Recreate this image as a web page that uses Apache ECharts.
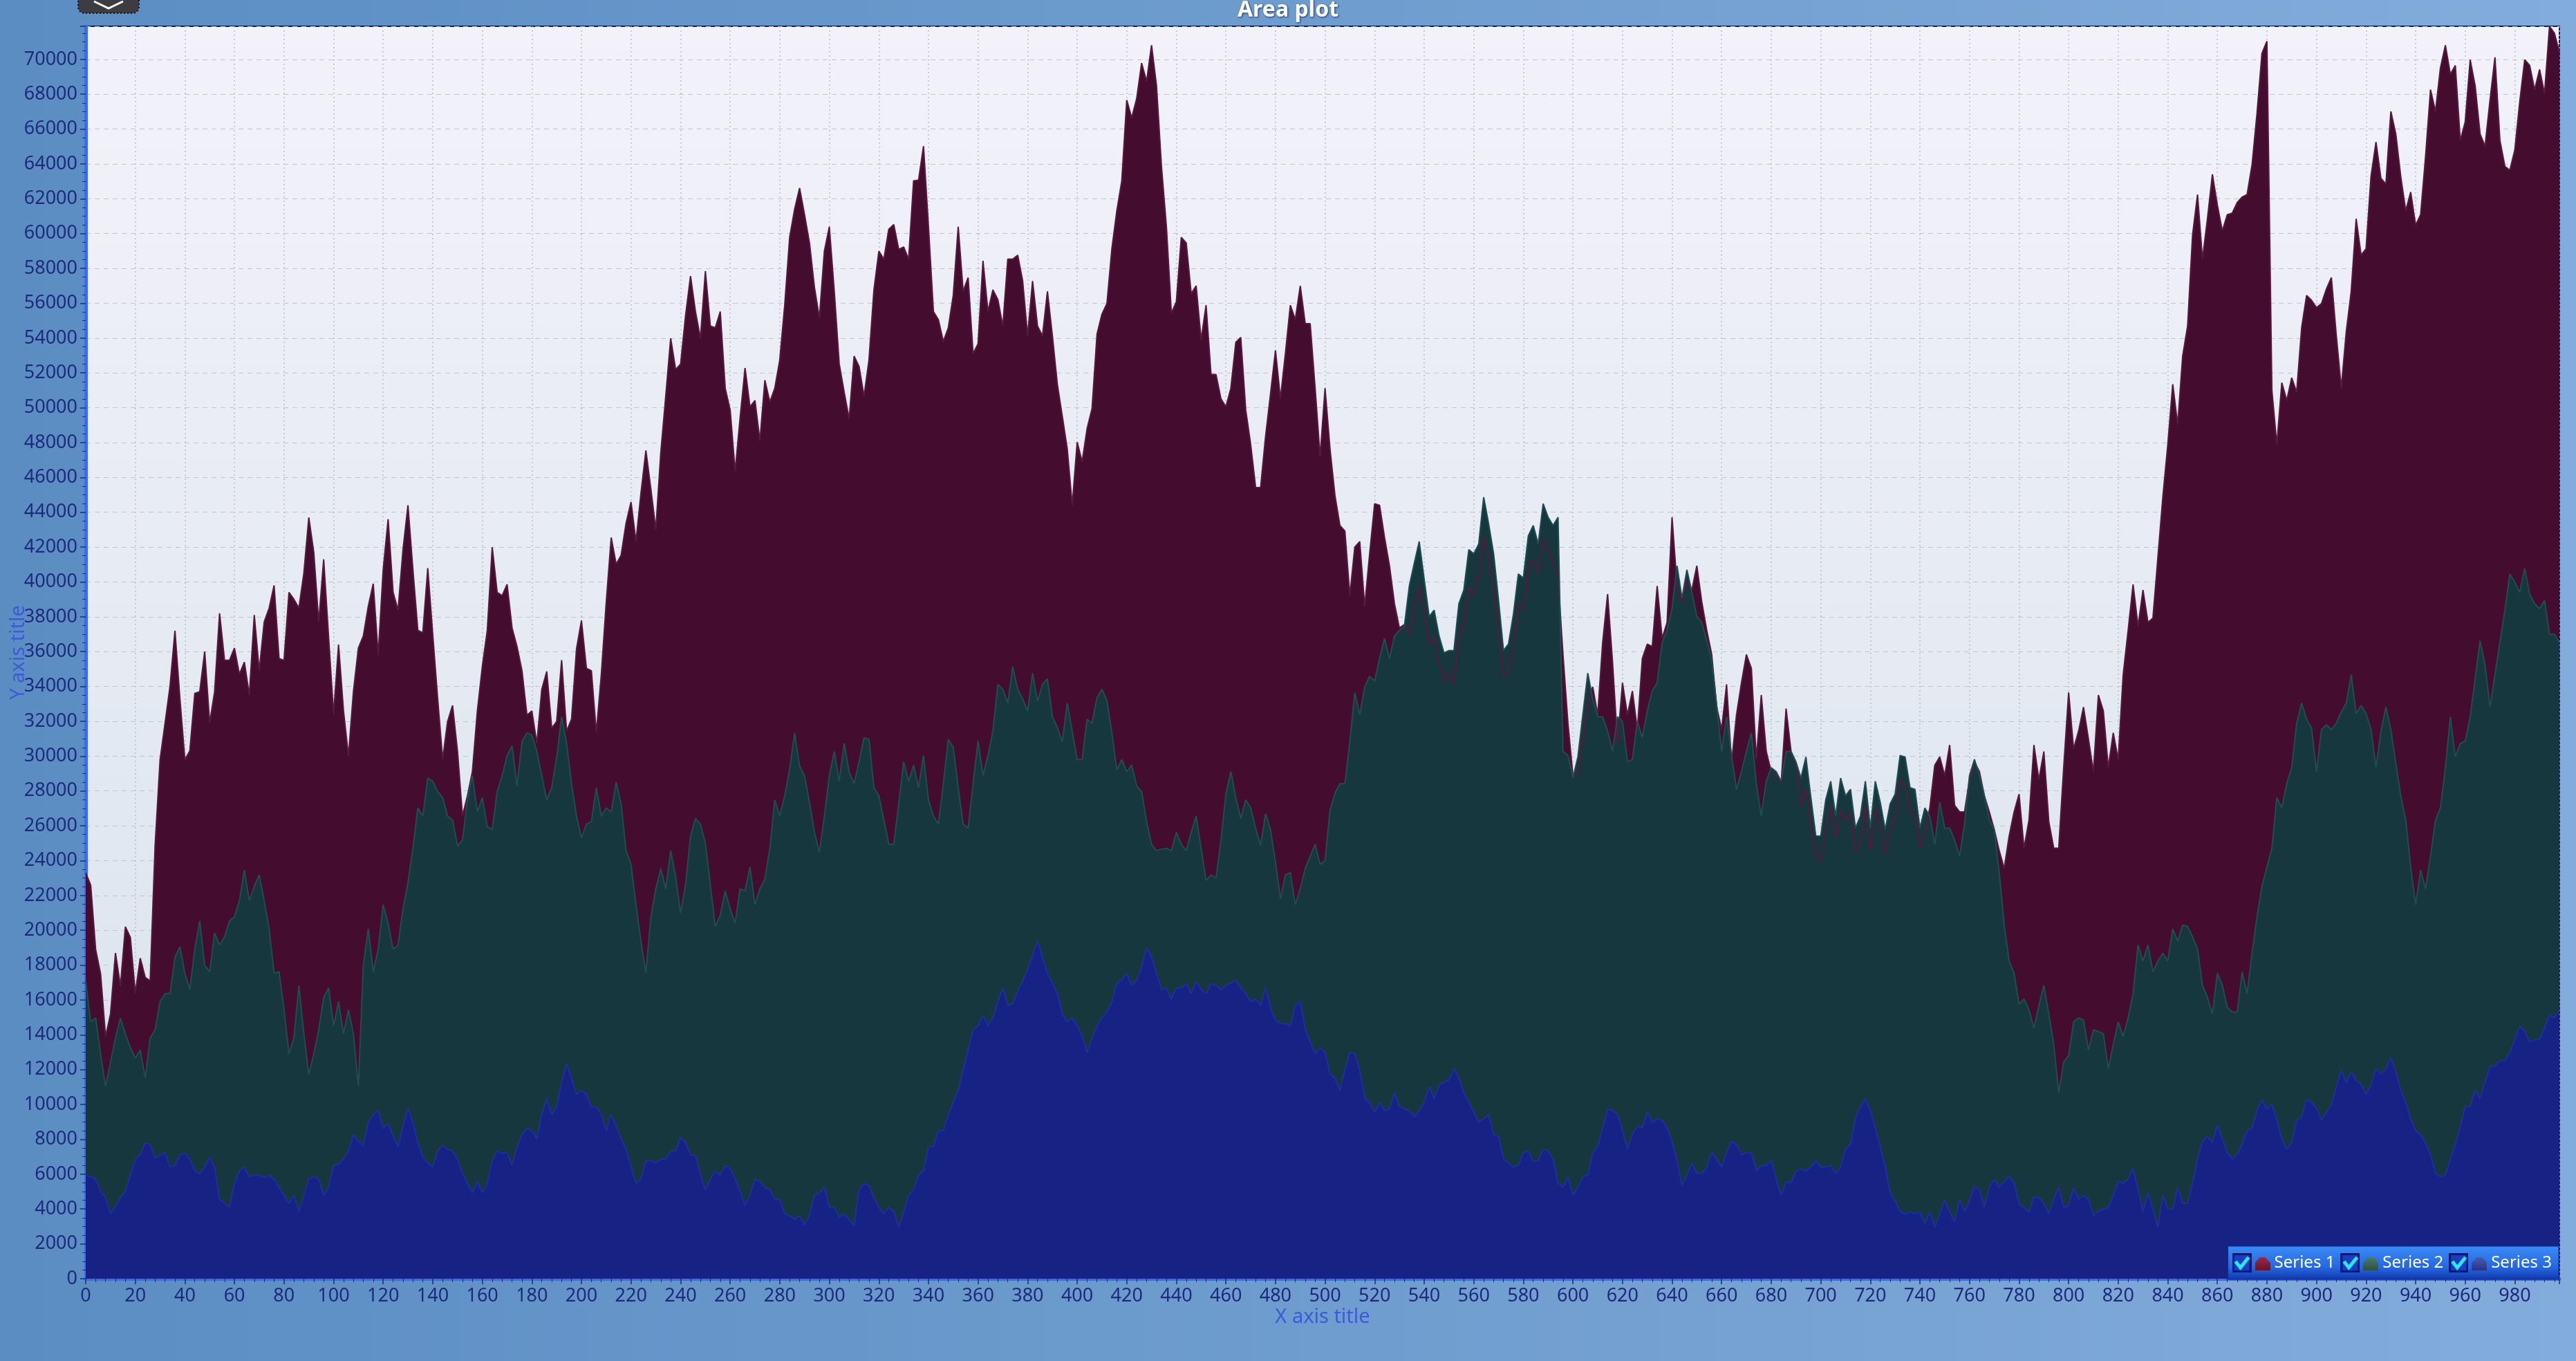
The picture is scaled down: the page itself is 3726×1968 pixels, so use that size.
<!DOCTYPE html>
<html>
<head>
<meta charset="utf-8">
<title>Area plot</title>
<style>
  html, body { margin: 0; padding: 0; }
  body {
    width: 3726px; height: 1968px; overflow: hidden;
    background: linear-gradient(90deg, #5b8dc3 0%, #6a99cc 40%, #78a4d4 75%, #82acdb 100%);
  }
  #main { width: 3726px; height: 1968px; }
</style>
</head>
<body>
<div id="main"></div>
<script src="https://cdn.jsdelivr.net/npm/echarts/dist/echarts.min.js"></script>
<script>
const SERIES_NAMES = ['Series 1', 'Series 2', 'Series 3'];
const X_STEP = 2;      // one sample every 2 x units, 0 .. 998
const X_MAX = 998;
const Y_MAX = 71900;

const S1_VALUES = [
  // 0 - 124
  23300, 22600, 18900, 17500, 13900, 15200, 18700, 16800, 20200, 19600,
  16400, 18400, 17300, 17100, 24900, 29800, 31900, 34000, 37200, 33300,
  29800, 30300, 33600, 33700, 36000, 31900, 33700, 38200, 35500, 35500,
  36200, 34700, 35400, 33500, 38100, 34900, 37700, 38500, 39800, 35600,
  35500, 39400, 39000, 38500, 40500, 43700, 41700, 37700, 41300, 36800,
  32400, 36400, 32600, 30000, 33700, 36200, 36900, 38600, 39900, 35800,
  40700, 43600, 39400,
  // 126 - 250
  38380, 41850, 44400, 40700, 37220, 37080, 40790, 36990, 33280, 29810,
  31990, 32910, 30270, 26560, 27720, 29110, 32590, 35140, 37220, 41990,
  39400, 39210, 39860, 37360, 36290, 34910, 32360, 32590, 30730, 33840,
  34860, 31610, 31990, 35510, 31430, 32120, 36150, 37780, 35040, 34900,
  31340, 34670, 38840, 42550, 41020, 41530, 43380, 44590, 42320, 45100,
  47550, 45330, 43010, 47410, 50660, 53990, 52190, 52510, 55290, 57560,
  55520, 53990, 57840,
  // 252 - 374
  54690, 54590, 55520, 51120, 49870, 46350, 49410, 52280, 50050, 50420,
  48110, 51580, 50330, 51120, 52740, 55890, 59780, 61400, 62610, 61080,
  59460, 56910, 55150, 58990, 60390, 56680, 52510, 50890, 49360, 52970,
  52370, 50660, 52740, 56770, 58990, 58530, 60250, 60520, 59090, 59230,
  58530, 63030, 63070, 65020, 60390, 55520, 55060, 53810, 54590, 56450,
  60390, 56680, 57470, 53110, 53670, 58440, 55520, 56770, 56210, 54690,
  58530, 58530,
  // 376 - 500
  58760, 57280, 54130, 57280, 54690, 54130, 56680, 54130, 51350, 49500,
  47640, 44400, 48020, 46900, 48800, 49960, 54220, 55380, 55980, 59130,
  61310, 63030, 67660, 66640, 67750, 69790, 68730, 70810, 68490, 63860,
  60390, 55430, 56080, 59780, 59460, 56540, 57000, 53900, 55890, 51910,
  51910, 50520, 50050, 51120, 53760, 54040, 49870, 47880, 45420, 45420,
  48340, 50790, 53300, 50520, 53110, 55890, 55060, 57000, 54830, 54830,
  51120, 47180, 51120,
  // 502 - 626
  47640, 44960, 43240, 42920, 39210, 42000, 42320, 38610, 41620, 44490,
  44400, 42550, 40930, 38750, 37360, 37550, 37000, 38500, 39800, 38200,
  36400, 36900, 35200, 34300, 34800, 34100, 36900, 37600, 39700, 39300,
  40400, 42600, 41200, 39600, 37100, 34500, 34900, 36300, 38700, 38400,
  40800, 41300, 40500, 42500, 41800, 41100, 40200, 35830, 31890, 28880,
  29000, 31000, 33000, 33980, 32360, 36520, 39300, 35370, 30730, 34210,
  32360, 33740, 31520,
  // 628 - 750
  35600, 36430, 36290, 39770, 36760, 37680, 43710, 39770, 38840, 40000,
  39540, 40930, 38840, 37220, 35830, 32820, 31520, 34120, 29580, 32360,
  34210, 35830, 35040, 29810, 33510, 30270, 29110, 28880, 28420, 32730,
  30270, 29580, 27200, 28100, 26000, 24200, 24000, 25900, 27100, 25300,
  27000, 26300, 26800, 24500, 25100, 27200, 24600, 27000, 26000, 24400,
  25800, 26500, 28600, 28300, 26900, 26600, 24700, 25800, 27030, 29480,
  29950, 28880,
  // 752 - 876
  30640, 27170, 26800, 26800, 28650, 29670, 29110, 27720, 26800, 25780,
  24570, 23550, 25410, 26800, 27820, 24710, 26330, 30640, 28650, 30270,
  26240, 24710, 24710, 29340, 33650, 30410, 31430, 32820, 30970, 29110,
  33510, 32590, 29340, 31340, 29810, 34670, 37220, 39860, 37450, 39540,
  37680, 37920, 41390, 44870, 47880, 51350, 49030, 52970, 54690, 59920,
  62240, 58530, 60850, 63400, 61640, 60150, 61080, 61170, 61780, 62100,
  62240, 63950, 66900,
  // 878 - 998
  70350, 71040, 51000, 47880, 51440, 50420, 51720, 50890, 54590, 56450,
  56170, 55750, 55980, 56820, 57470, 54130, 51120, 54360, 56680, 60850,
  58760, 59130, 63300, 65250, 63170, 62840, 67010, 65710, 63260, 61310,
  62380, 60480, 61080, 64420, 68260, 67010, 69510, 70810, 69140, 69650,
  65340, 66410, 69980, 68490, 65710, 65020, 67660, 70120, 65340, 63860,
  63630, 64790, 67570, 69980, 69650, 68260, 69420, 68030, 71900, 71500,
  70400
];

const S2_VALUES = [
  // 0 - 124
  17070, 14750, 14980, 12900, 11050, 12430, 13820, 14980, 14060, 13270,
  12670, 13130, 11510, 13820, 14290, 15910, 16370, 16370, 18460, 19060,
  17530, 16600, 18920, 20540, 18000, 17620, 19850, 19150, 19620, 20540,
  20770, 21700, 23460, 21700, 22530, 23180, 21700, 20080, 17530, 17620,
  15450, 12900, 13820, 16830, 14060, 11740, 12900, 14290, 16140, 16700,
  14520, 15910, 14060, 15450, 14060, 11050, 18000, 20080, 17620, 18920,
  21470, 20400, 18920,
  // 126 - 250
  19150, 21240, 22720, 24710, 27030, 26560, 28740, 28560, 27950, 27630,
  26560, 26330, 24850, 25170, 27490, 28880, 26800, 27630, 25960, 25780,
  27950, 28880, 30040, 30600, 28280, 30830, 31340, 31200, 30270, 28880,
  27490, 28190, 29950, 32260, 30730, 28420, 26560, 25310, 26100, 26240,
  28190, 26560, 27030, 26800, 28510, 27260, 24570, 23780, 21470, 19380,
  17530, 20770, 22390, 23550, 22390, 24570, 23090, 21000, 22620, 25410,
  26420, 26100, 25000,
  // 252 - 374
  22620, 20220, 20870, 22260, 21240, 20400, 22390, 22260, 23640, 21470,
  22390, 22950, 24710, 27490, 26560, 27720, 29250, 31340, 29440, 28880,
  27350, 25640, 24480, 26560, 28880, 30270, 28560, 30730, 29110, 28420,
  29670, 31060, 30970, 28190, 27720, 26330, 24940, 24940, 27260, 29670,
  28560, 29480, 28190, 30040, 27490, 26560, 26100, 28420, 30970, 30500,
  28190, 26100, 25870, 28420, 30870, 28880, 30040, 31430, 34120, 33840,
  33050, 35140,
  // 376 - 500
  33840, 33280, 32590, 34760, 33140, 34120, 34440, 32260, 31660, 30830,
  33050, 31430, 29810, 29810, 32120, 31890, 33370, 33840, 33190, 31340,
  29210, 29810, 29110, 29480, 28280, 27950, 26240, 24940, 24570, 24660,
  24710, 24570, 25640, 24940, 24570, 25640, 26560, 24710, 22860, 23180,
  23000, 25170, 27820, 29110, 27630, 26420, 27490, 27030, 25870, 24850,
  26700, 25780, 23920, 21790, 23180, 23320, 21470, 22390, 23550, 24250,
  24940, 23780, 24020,
  // 502 - 626
  26890, 27860, 28420, 28420, 30830, 33650, 32360, 33980, 34580, 34300,
  35600, 36760, 35600, 36900, 37220, 37450, 39770, 41070, 42320, 40140,
  38010, 38380, 36900, 35920, 36060, 36060, 38750, 39540, 41850, 41620,
  42180, 44870, 43340, 41620, 38940, 36060, 36430, 38150, 40460, 40230,
  42640, 43240, 42180, 44490, 43710, 43240, 43710, 30270, 30040, 28740,
  29950, 32360, 34760, 33280, 32260, 32260, 31430, 30270, 32260, 31990,
  29670, 29800, 32000,
  // 628 - 750
  31060, 32590, 33740, 34210, 36520, 37220, 38470, 40930, 39070, 40700,
  39400, 38010, 37680, 36620, 35510, 32910, 30270, 32260, 30040, 28090,
  29110, 30270, 31340, 28420, 26560, 28560, 29340, 29110, 28560, 30270,
  30270, 29670, 28740, 29950, 27630, 25410, 25410, 27490, 28560, 26560,
  28740, 27720, 28090, 25870, 26560, 28560, 25870, 28560, 27350, 25780,
  27260, 27820, 30040, 29950, 28190, 28090, 25870, 27030, 26560, 24940,
  27350, 25870,
  // 752 - 876
  25870, 25180, 24250, 26100, 28880, 29810, 28880, 27720, 26330, 25780,
  23320, 20310, 18230, 17530, 15770, 16050, 15450, 14380, 15680, 16840,
  15210, 13450, 10670, 12430, 12810, 14750, 14980, 14840, 13130, 14290,
  14200, 14060, 12060, 13450, 14750, 13920, 14980, 16370, 19150, 18230,
  19150, 17620, 18230, 18690, 18230, 20080, 19380, 20310, 20220, 19620,
  18920, 16840, 16140, 15210, 17530, 16840, 15580, 15310, 15310, 17620,
  16370, 18690, 20800,
  // 878 - 998
  22530, 23640, 24710, 27630, 27030, 28420, 29340, 31890, 33050, 32120,
  31610, 29110, 31520, 31800, 31520, 31890, 32540, 33050, 34670, 32450,
  32910, 32450, 31520, 29340, 31430, 32820, 31520, 29580, 27720, 26330,
  23640, 21470, 23460, 22390, 24250, 26330, 27030, 29340, 32260, 29950,
  30730, 30870, 32260, 34440, 36620, 35230, 32820, 34670, 36520, 38380,
  40460, 40000, 39400, 40790, 39300, 38750, 38470, 38940, 36990, 36990,
  36520
];

const S3_VALUES = [
  // 0 - 124
  5950, 5860, 5720, 5020, 4650, 3720, 4190, 4650, 5020, 5950,
  6870, 7110, 7800, 7700, 6900, 7110, 7240, 6410, 6500, 7110,
  7200, 6870, 6180, 6040, 6410, 6970, 6410, 4560, 4330, 4100,
  5480, 6180, 6410, 5860, 5950, 5950, 5810, 5950, 5720, 5250,
  4790, 4330, 4790, 3860, 4790, 5720, 5860, 5720, 4790, 5250,
  6500, 6590, 6870, 7340, 8270, 7890, 7660, 8960, 9420, 9650,
  8640, 8900, 8200,
  // 126 - 250
  7570, 8730, 9790, 8960, 7800, 6970, 6640, 6410, 7340, 7660,
  7430, 7340, 6870, 6040, 5480, 4930, 5580, 4930, 5480, 6780,
  7340, 7200, 7250, 6500, 7570, 8270, 8640, 8500, 8030, 9420,
  10350, 9420, 9880, 11270, 12340, 11510, 10580, 10810, 10580, 9880,
  9880, 9420, 8500, 9420, 8730, 8030, 7430, 6410, 5480, 5720,
  6780, 6780, 6640, 6870, 6870, 7340, 7340, 8130, 7800, 7110,
  7110, 5950, 5100,
  // 252 - 374
  5720, 6180, 5950, 6500, 6320, 5720, 5020, 4190, 4790, 5720,
  5580, 5250, 5110, 4560, 4560, 3720, 3630, 3400, 3630, 3080,
  3630, 4790, 4930, 5250, 4100, 4100, 3540, 3720, 3400, 3030,
  5110, 5480, 5340, 4650, 4100, 3720, 4100, 3860, 2940, 3860,
  4790, 5110, 5950, 6180, 7570, 7570, 8500, 8500, 9420, 10120,
  10810, 11970, 13130, 14290, 14520, 15120, 14520, 14980, 15910, 16700,
  15680, 15800,
  // 376 - 500
  16510, 17070, 17760, 18550, 19380, 18460, 17530, 16970, 16370, 15210,
  14750, 14980, 14520, 13920, 12990, 13820, 14520, 14980, 15310, 15910,
  16970, 17160, 17530, 16840, 17160, 17900, 19010, 18460, 17530, 16600,
  16700, 16050, 16700, 16700, 16930, 16370, 17070, 16600, 16370, 16930,
  16840, 16600, 16840, 16970, 17160, 16700, 16370, 15910, 16050, 15680,
  16700, 15580, 14840, 14660, 14660, 14520, 15680, 15910, 14380, 13590,
  12900, 13270, 12990,
  // 502 - 626
  11740, 11510, 10810, 11970, 12990, 12900, 11970, 10350, 10120, 9560,
  10120, 9650, 9750, 10670, 9880, 9750, 9650, 9280, 9650, 10120,
  11040, 10350, 11130, 11270, 11410, 12060, 11510, 10670, 10120, 9560,
  8960, 9190, 9420, 8270, 8170, 6870, 6640, 6410, 6500, 7240,
  7340, 6730, 6780, 7430, 7340, 6870, 5480, 5250, 5850, 4790,
  5250, 5850, 5950, 7240, 7570, 8640, 9750, 9650, 9420, 8500,
  7430, 8300, 8800,
  // 628 - 750
  8640, 9560, 8960, 9190, 9100, 8640, 7890, 6780, 5340, 5950,
  6640, 6040, 6040, 6410, 7240, 6870, 6410, 7240, 7890, 7710,
  7110, 7240, 7240, 6180, 6500, 6500, 6780, 5720, 4790, 5580,
  5480, 6180, 6320, 6180, 6410, 6780, 6410, 6410, 6500, 6040,
  6410, 7430, 7710, 9190, 9880, 10350, 9650, 8640, 7570, 6410,
  4930, 4470, 3860, 3720, 3860, 3720, 3860, 3170, 3860, 2940,
  3720, 4500,
  // 752 - 876
  3860, 3260, 4560, 3860, 4470, 5340, 5110, 4100, 5250, 5720,
  5250, 5580, 5860, 5480, 4280, 4100, 3820, 4700, 4650, 4330,
  3720, 4560, 5250, 4100, 4190, 5250, 4560, 4790, 4560, 3630,
  3860, 4000, 4100, 4790, 5580, 5480, 5720, 6320, 5110, 3860,
  4930, 4000, 2940, 4790, 4000, 4000, 5250, 4330, 4330, 5480,
  6870, 7890, 8170, 7800, 8820, 8030, 7240, 6870, 7110, 7710,
  8500, 8640, 9650,
  // 878 - 998
  10260, 9750, 10020, 9100, 8030, 7430, 7800, 9100, 9280, 10300,
  10120, 9790, 9100, 9560, 9980, 11040, 11970, 11270, 11880, 11410,
  11130, 10580, 11130, 12060, 11740, 12060, 12670, 11880, 10810, 10120,
  9190, 8500, 8270, 7800, 7110, 6040, 5860, 5950, 6870, 7710,
  8730, 9880, 9880, 10810, 10350, 11270, 12200, 12200, 12530, 12530,
  12990, 13730, 14520, 14190, 13590, 13730, 13730, 14380, 15120, 14980,
  15450
];

const SERIES_VALUES = [S1_VALUES, S2_VALUES, S3_VALUES];
const AREA_COLORS = ['#440c2e', '#16373e', '#172384'];
const EDGE_COLORS = ['#571a3e', '#1f4d52', '#1e2e9c'];
const ICON_COLORS = [['#a32d4c', '#65142e'], ['#55806e', '#2b5044'], ['#5060b8', '#28348a']];

const AXIS_TEXT = '#1d2b7c';
const FONT = 'Noto Sans';

function toPairs(values) {
  return values.map(function (v, i) { return [i * X_STEP, v]; });
}

// legend checkbox (cyan tick in a dark blue box)
function makeCheckbox() {
  const c = document.createElement('canvas');
  c.width = 28; c.height = 28;
  const g = c.getContext('2d');
  g.fillStyle = '#0b1a78';
  g.fillRect(0, 0, 28, 28);
  g.fillStyle = '#1a3cc0';
  g.fillRect(3, 3, 22, 22);
  g.strokeStyle = '#2ee8f6';
  g.lineWidth = 5;
  g.beginPath();
  g.moveTo(5, 12);
  g.lineTo(12, 21);
  g.lineTo(24, 6);
  g.stroke();
  return c.toDataURL();
}

// small "area" glyph shown next to each legend name
function makeAreaIcon(colors) {
  const c = document.createElement('canvas');
  c.width = 22; c.height = 22;
  const g = c.getContext('2d');
  const grad = g.createLinearGradient(0, 0, 0, 22);
  grad.addColorStop(0, colors[0]);
  grad.addColorStop(1, colors[1]);
  g.fillStyle = grad;
  g.beginPath();
  g.moveTo(0, 22);
  g.lineTo(0, 11);
  g.lineTo(7, 3);
  g.lineTo(15, 3);
  g.lineTo(22, 11);
  g.lineTo(22, 22);
  g.closePath();
  g.fill();
  return c.toDataURL();
}

const legendRich = { t: { color: '#ffffff', fontSize: 24, fontFamily: FONT, padding: [0, 0, 0, 6] } };
ICON_COLORS.forEach(function (cols, i) {
  legendRich['h' + (i + 1)] = { width: 22, height: 22, backgroundColor: { image: makeAreaIcon(cols) } };
});

const myChart = echarts.init(document.getElementById('main'), null, { renderer: 'canvas' });

const option = {
  animation: false,
  backgroundColor: 'transparent',
  title: {
    text: 'Area plot',
    left: 'center',
    top: -6,
    textStyle: {
      color: '#ffffff', fontSize: 32, fontWeight: 'bold', fontFamily: FONT,
      textShadowColor: 'rgba(10, 20, 60, 0.75)', textShadowBlur: 3,
      textShadowOffsetX: 1, textShadowOffsetY: 1
    }
  },
  grid: {
    left: 124, right: 24, top: 38, bottom: 119,
    outerBoundsMode: 'none',
    containLabel: false,
    show: true,
    backgroundColor: {
      type: 'linear', x: 0, y: 0, x2: 0, y2: 1,
      colorStops: [{ offset: 0, color: '#f3f2fa' }, { offset: 1, color: '#d7e2ec' }]
    },
    borderColor: '#0c1c68',
    borderWidth: 2
  },
  legend: {
    data: SERIES_NAMES,
    right: 25,
    bottom: 118,
    z: 20,
    zlevel: 1,
    itemWidth: 28,
    itemHeight: 28,
    itemGap: 8,
    padding: [10, 10, 10, 6],
    icon: 'image://' + makeCheckbox(),
    selectedMode: false,
    backgroundColor: {
      type: 'linear', x: 0, y: 0, x2: 0, y2: 1,
      colorStops: [
        { offset: 0, color: '#3b8cf6' },
        { offset: 0.65, color: '#2466e0' },
        { offset: 1, color: '#1236a8' }
      ]
    },
    borderColor: '#0b2a9a',
    borderWidth: 1,
    formatter: function (name) {
      return '{h' + (SERIES_NAMES.indexOf(name) + 1) + '|}{t|' + name + '}';
    },
    textStyle: { color: '#ffffff', fontSize: 24, fontFamily: FONT, rich: legendRich }
  },
  xAxis: {
    type: 'value',
    min: 0,
    max: X_MAX,
    interval: 20,
    name: 'X axis title',
    nameLocation: 'middle',
    nameGap: 41,
    nameMoveOverlap: false,
    nameTextStyle: { color: '#3d5bd4', fontSize: 29, fontFamily: FONT },
    axisLine: { show: true, onZero: false, lineStyle: { color: '#3a6cf0', width: 5 } },
    axisTick: { show: true, length: 8, lineStyle: { color: AXIS_TEXT, width: 1.5 } },
    minorTick: { show: true, splitNumber: 5, length: 5, lineStyle: { color: AXIS_TEXT, width: 1 } },
    axisLabel: { color: AXIS_TEXT, fontSize: 27, fontFamily: FONT, margin: 12, showMaxLabel: false },
    splitLine: { show: true, lineStyle: { color: '#bcbccc', width: 1.5, type: [2, 4] } }
  },
  yAxis: {
    type: 'value',
    min: 0,
    max: Y_MAX,
    interval: 2000,
    name: 'Y axis title',
    nameLocation: 'middle',
    nameRotate: 90,
    nameGap: 83,
    nameMoveOverlap: false,
    nameTextStyle: { color: '#3d5bd4', fontSize: 29, fontFamily: FONT },
    axisLine: { show: true, onZero: false, lineStyle: { color: '#3a6cf0', width: 5 } },
    axisTick: { show: true, length: 8, lineStyle: { color: AXIS_TEXT, width: 1.5 } },
    minorTick: { show: true, splitNumber: 4, length: 5, lineStyle: { color: AXIS_TEXT, width: 1 } },
    axisLabel: {
      color: AXIS_TEXT, fontSize: 27, fontFamily: FONT, margin: 12, showMaxLabel: false,
      formatter: function (v) { return String(v); }
    },
    splitLine: { show: true, lineStyle: { color: '#c4c4d0', width: 1, type: [7, 6] } }
  },
  graphic: [
    {
      type: 'rect',
      shape: { x: 113, y: -10, width: 88, height: 29, r: 9 },
      style: { fill: '#3c3c42', stroke: '#111111', lineWidth: 2, lineDash: [2, 3] },
      z: 100
    },
    {
      type: 'polyline',
      shape: { points: [[136, 2], [157, 12], [178, 2]] },
      style: { stroke: '#ffffff', lineWidth: 3, fill: null },
      z: 101
    }
  ],
  series: SERIES_NAMES.map(function (name, i) {
    return {
      name: name,
      type: 'line',
      data: toPairs(SERIES_VALUES[i]),
      showSymbol: false,
      symbol: 'none',
      lineStyle: { color: EDGE_COLORS[i], width: 2 },
      itemStyle: { color: AREA_COLORS[i] },
      areaStyle: { color: AREA_COLORS[i], opacity: 1 }
    };
  })
};

myChart.setOption(option);
</script>
</body>
</html>
